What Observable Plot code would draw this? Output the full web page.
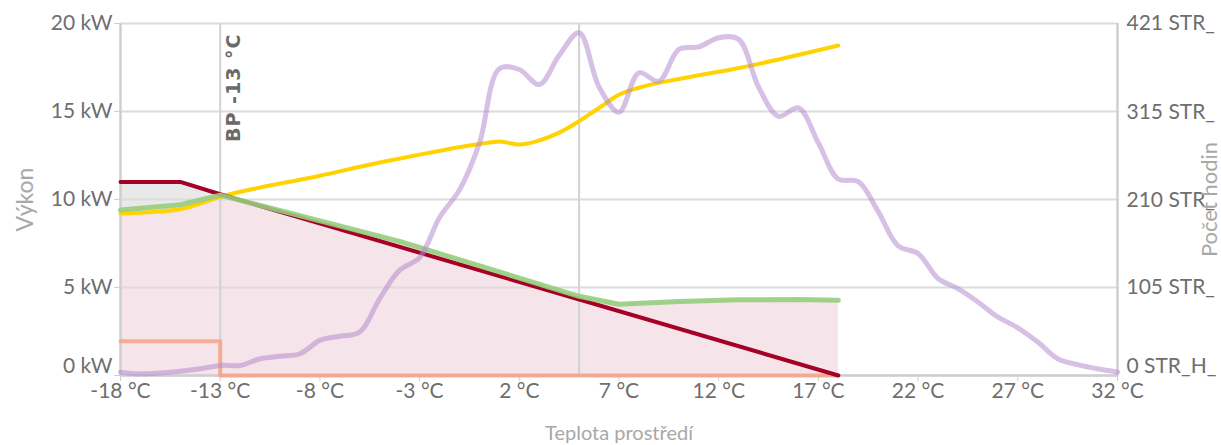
<!DOCTYPE html>
<html><head><meta charset="utf-8">
<script src="https://cdn.jsdelivr.net/npm/d3@7"></script>
<script src="https://cdn.jsdelivr.net/npm/@observablehq/plot@0.6"></script>
<style>html,body{margin:0;padding:0;overflow:hidden;background:#fff}</style>
</head><body><div id="chart"></div>
<script>
// Tepelná ztráta (kW)
const demandT = [-18, -15, -13, 18];
const demandKW = [11, 11, 10.3, 0];
// Výkon TČ (kW)
const pumpT = [-18, -15, -13, -4, 5, 7, 10, 13, 16, 18];
const pumpKW = [9.4, 9.7, 10.25, 7.62, 4.5, 4.05, 4.2, 4.3, 4.32, 4.27];
// Max. výkon (kW)
const maxT = [-18, -15, -13, -8, -5, -3, 0, 1, 2, 3, 4, 5, 6, 7, 8, 10, 12.7, 18];
const maxKW = [9.2, 9.45, 10.15, 11.35, 12.1, 12.55, 13.15, 13.3, 13.12, 13.35, 13.8, 14.45, 15.2, 15.95, 16.35, 16.85, 17.4, 18.75];
// Bivalentní zdroj (kW)
const backupT = [-18, -13, -13, 18];
const backupKW = [1.95, 1.95, 0, 0];
// Počet hodin
const hoursT = [-18,-17,-16,-15,-14,-13,-12,-11,-10,-9,-8,-7,-6,-5,-4,-3,-2,-1,0,1,2,3,4,5,6,7,8,9,10,11,12,13,14,15,16,17,18,19,20,21,22,23,24,25,26,27,28,29,30,31,32];
const hours = [4,2,3,5,8,12,12,20,23,26,42,47,52,92,126,141,189,222,278,367,366,348,383,410,345,315,362,352,390,393,404,402,345,310,320,278,235,232,196,155,146,116,104,88,70,57,40,20,13,8,4];

const xTicks = [-18, -13, -8, -3, 2, 7, 12, 17, 22, 27, 32];
const yTicks = [5, 10, 15, 20];
const yZero = [0];
const rightTicks = [105, 210, 315, 421];
const rightZero = [0];
const rightLabels = ["105 STR_", "210 STR_", "315 STR_", "421 STR_"];
const rightZeroLabel = "0 STR_H_";
const markers = [-13, 5];
const bpLabel = "BP -13 °C";
const yTitle = "Výkon", y2Title = "Počet hodin", xTitle = "Teplota prostředí";
const hoursMax = 421, kwMax = 20;

const zip = (ts, vs) => ts.map((t, i) => ({t, v: vs[i]}));
const demand = zip(demandT, demandKW);
const pump = zip(pumpT, pumpKW);
const maxP = zip(maxT, maxKW);
const backup = zip(backupT, backupKW);
const hrs = hoursT.map((t, i) => ({t, v: hours[i] * kwMax / hoursMax}));
const grayArea = demandT.filter(t => t <= -13).map(t => ({
  t, lo: pumpKW[pumpT.indexOf(t)], hi: demandKW[demandT.indexOf(t)]
}));
const rightPos = rightTicks.map(h => h * kwMax / hoursMax);
const rightMap = new Map(rightPos.map((p, i) => [p, rightLabels[i]]));
const allY = yZero.concat(yTicks);

const tickColor = "#6e6e6e", titleColor = "#a8a8a8", lineColor = "#cfcfcf";

const chart = Plot.plot({
  width: 1221, height: 445,
  marginLeft: 120, marginRight: 104, marginTop: 23, marginBottom: 70,
  x: {domain: [-18, 32]},
  y: {domain: [0, 20]},
  style: {fontFamily: "Lato, sans-serif", fontSize: "21px", color: tickColor, background: "#fff", overflow: "hidden"},
  marks: [
    Plot.areaY(pump, {x: "t", y: "v", fill: "#f5e4e9"}),
    Plot.areaY(grayArea, {x: "t", y1: "lo", y2: "hi", fill: "#e9e9e9"}),
    Plot.gridY(allY, {stroke: "#dcdcdc", strokeOpacity: 1, strokeWidth: 2}),
    Plot.ruleX(markers, {stroke: "#d2d2d2", strokeWidth: 2}),
    Plot.ruleX([-18, 32], {stroke: lineColor, strokeWidth: 2.5}),
    Plot.ruleY([0], {stroke: lineColor, strokeWidth: 2.5}),
    Plot.axisY(allY, {anchor: "left", tickFormat: () => "", tickSize: 6, stroke: lineColor, label: null}),
    Plot.axisY(yTicks, {anchor: "left", tickFormat: d => `${d} kW`, tickSize: 0, tickPadding: 8, fill: tickColor, label: null}),
    Plot.axisY(yZero, {anchor: "left", tickFormat: d => `${d} kW`, tickSize: 0, tickPadding: 8, dy: -9, fill: tickColor, label: null}),
    Plot.axisY(rightPos, {anchor: "right", tickFormat: d => rightMap.get(d), tickSize: 0, tickPadding: 9, fill: tickColor, label: null}),
    Plot.axisY(rightZero, {anchor: "right", tickFormat: () => rightZeroLabel, tickSize: 0, tickPadding: 9, dy: -9, fill: tickColor, label: null}),
    Plot.axisX(xTicks, {tickFormat: d => `${d} °C`, tickSize: 6, tickPadding: 2, stroke: lineColor, fill: tickColor, label: null}),
    Plot.line(backup, {x: "t", y: "v", stroke: "#f4a386", strokeWidth: 4, strokeOpacity: 0.85}),
    Plot.line(maxP, {x: "t", y: "v", stroke: "#ffd200", strokeWidth: 4, curve: "monotone-x"}),
    Plot.line(demand, {x: "t", y: "v", stroke: "#a50026", strokeWidth: 4}),
    Plot.line(pump, {x: "t", y: "v", stroke: "#96cd7d", strokeWidth: 5, strokeOpacity: 0.9}),
    Plot.line(hrs, {x: "t", y: "v", stroke: "#b48ccf", strokeWidth: 5, strokeOpacity: 0.55, curve: "catmull-rom"}),
    Plot.text([bpLabel], {x: () => -13, frameAnchor: "top", rotate: -90, textAnchor: "end", lineAnchor: "middle", dx: 14, dy: 10, fontWeight: "bold", fontSize: 19, fill: "#6a6a6a", fontFamily: "DejaVu Sans, sans-serif"}),
    Plot.text([yTitle], {frameAnchor: "left", textAnchor: "middle", lineAnchor: "middle", dx: -95, rotate: -90, fill: titleColor, fontSize: 23}),
    Plot.text([y2Title], {frameAnchor: "right", textAnchor: "middle", lineAnchor: "middle", dx: 92, rotate: -90, fill: titleColor, fontSize: 22}),
    Plot.text([xTitle], {frameAnchor: "bottom", textAnchor: "middle", lineAnchor: "middle", dy: 58, fill: titleColor, fontSize: 20})
  ]
});
d3.select(chart).selectAll("text").filter(function() { return this.textContent === bpLabel; }).attr("letter-spacing", "1px");
document.getElementById("chart").appendChild(chart);
</script>
</body></html>
